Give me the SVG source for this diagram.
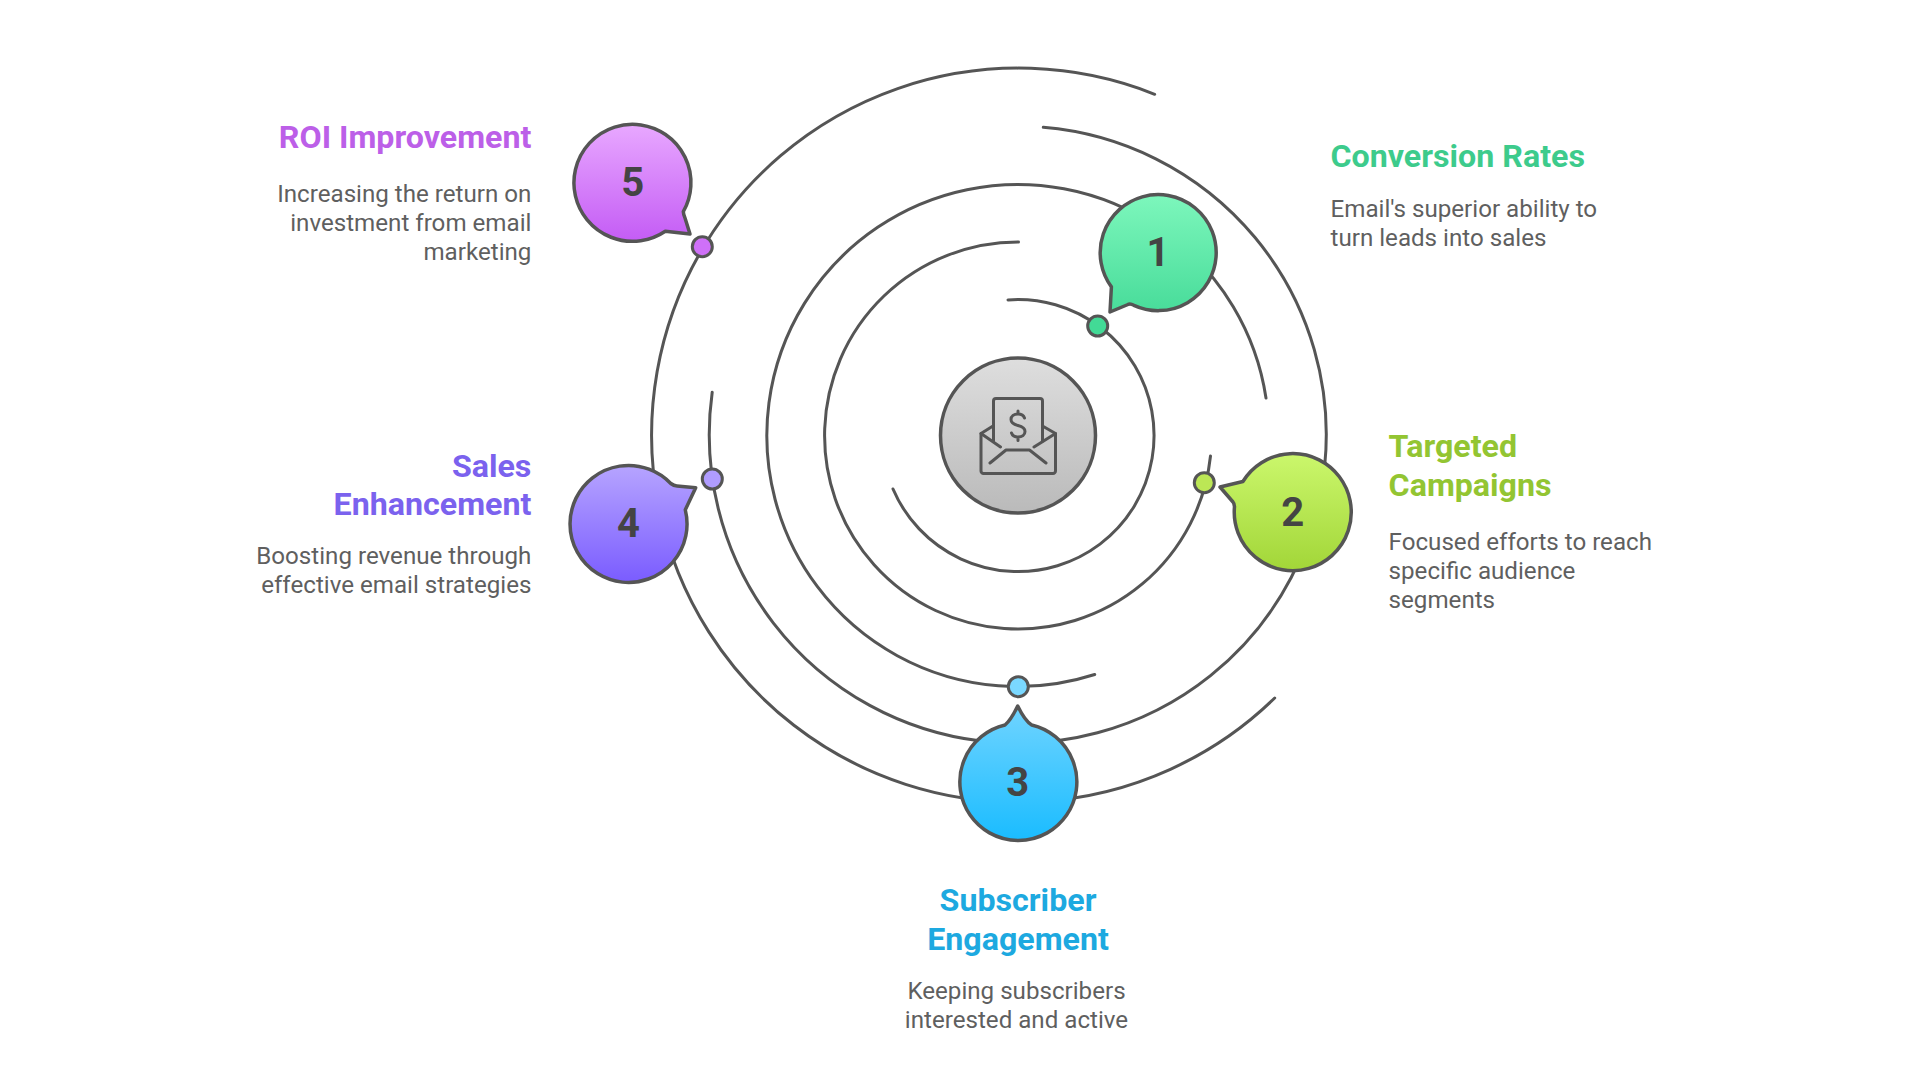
<svg xmlns="http://www.w3.org/2000/svg" width="1920" height="1080" viewBox="0 0 1920 1080">
<style>
.ring{fill:none;stroke:#555;stroke-width:3;stroke-linecap:round}
.shape{stroke:#555;stroke-width:3.5;stroke-linejoin:round}
.dot{stroke:#555;stroke-width:3}
.num{font-family:Roboto,"Liberation Sans",sans-serif;font-weight:700;font-size:40px;fill:#444;text-anchor:middle}
.t{font-family:Roboto,"Liberation Sans",sans-serif;font-weight:700;font-size:32.2px}
.d{font-family:Roboto,"Liberation Sans",sans-serif;font-size:24.15px;fill:#5f5f5f}
.e{text-anchor:end}.m{text-anchor:middle}
.icon{fill:none;stroke:#555;stroke-width:3;stroke-linecap:round;stroke-linejoin:round}
</style>
<defs>
<linearGradient id="g0" x1="0" y1="0" x2="0" y2="1"><stop offset="0" stop-color="#dedede"/><stop offset="1" stop-color="#bababa"/></linearGradient>
<linearGradient id="g1" x1="0" y1="0" x2="0" y2="1"><stop offset="0" stop-color="#7df7bc"/><stop offset="1" stop-color="#48dc9a"/></linearGradient>
<linearGradient id="g2" x1="0" y1="0" x2="0" y2="1"><stop offset="0" stop-color="#cbf76c"/><stop offset="1" stop-color="#a2d638"/></linearGradient>
<linearGradient id="g3" x1="0" y1="0" x2="0" y2="1"><stop offset="0" stop-color="#70d4ff"/><stop offset="1" stop-color="#1abcff"/></linearGradient>
<linearGradient id="g4" x1="0" y1="0" x2="0" y2="1"><stop offset="0" stop-color="#b6a4ff"/><stop offset="1" stop-color="#7a5cff"/></linearGradient>
<linearGradient id="g5" x1="0" y1="0" x2="0" y2="1"><stop offset="0" stop-color="#e8a8ff"/><stop offset="1" stop-color="#c45cf5"/></linearGradient>
</defs>
<g id="connectors">
<path class="ring" d="M1008 299.900A136 136 0 1 1 893 489"/>
<path class="ring" d="M1018.500 242A193.500 193.500 0 1 0 1210.500 456"/>
<path class="ring" d="M1266 398A251 251 0 1 0 1094.700 674.500"/>
<path class="ring" d="M1043.300 127.300A308.500 308.500 0 1 1 712.200 392.300"/>
<path class="ring" d="M1154.700 94.300A367 367 0 1 0 1274.700 698"/>
</g>
<g id="center">
<circle class="shape" cx="1018" cy="435.500" r="77.500" fill="url(#g0)"/>
<path class="icon" d="M993.500 441V401a2.500 2.500 0 0 1 2.500-2.500h44a2.500 2.500 0 0 1 2.500 2.500V441"/>
<path class="icon" d="M993 426L981 433.500L1000.500 447M1042.500 426L1055.500 433.500L1034 447"/>
<path class="icon" d="M981 433.500V471a2.500 2.500 0 0 0 2.500 2.500h69.500a2.500 2.500 0 0 0 2.500-2.500V433.500"/>
<path class="icon" d="M990 463L1006 450H1029.500L1046 463"/>
<path class="icon" stroke-width="2.500" d="M1024.500 418c-1-3-3.500-4-6.500-4c-4 0-7 2-7 5.500c0 3.500 3 5 7 6c4 1 7 2.500 7 6c0 3.500-3 5.500-7 5.500c-3 0-5.500-1-6.500-4M1018 411v3M1018 437.500v3"/>
</g>
<g id="node-1">
<circle class="dot" cx="1097.700" cy="326" r="10" fill="#42da96"/>
<path class="shape" fill="url(#g1)" d="M1110 312L1111.400 286.900A58 58 0 1 1 1133.900 305.300Q1130 303 1128 304.500Z"/>
<text class="num" x="1158" y="266">1</text>
<text class="t" x="1330.500" y="166.800" fill="#3dcb8c">Conversion Rates</text>
<text class="d" x="1330.500" y="216.500">Email's superior ability to</text>
<text class="d" x="1330.500" y="245.500">turn leads into sales</text>
</g>
<g id="node-2">
<circle class="dot" cx="1204.300" cy="482.700" r="10" fill="#bce755"/>
<path class="shape" fill="url(#g2)" d="M1220 487L1242.900 481.500A58.500 58.500 0 1 1 1234.500 506.700Q1234 503 1233 502Z"/>
<text class="num" x="1292.800" y="526">2</text>
<text class="t" x="1388.600" y="456.800" fill="#93c532">Targeted</text>
<text class="t" x="1388.600" y="495.500" fill="#93c532">Campaigns</text>
<text class="d" x="1388.600" y="550">Focused efforts to reach</text>
<text class="d" x="1388.600" y="579">specific audience</text>
<text class="d" x="1388.600" y="607.500">segments</text>
</g>
<g id="node-3">
<circle class="dot" cx="1018.300" cy="686.700" r="10" fill="#7ad8ff"/>
<path class="shape" fill="url(#g3)" d="M1017.700 706Q1025 721 1031.700 725A58.500 58.500 0 1 1 1005 725Q1011 720 1017.700 706Z"/>
<text class="num" x="1017.700" y="796">3</text>
<text class="t m" x="1018" y="910.800" fill="#1da9e0">Subscriber</text>
<text class="t m" x="1018" y="949.500" fill="#1da9e0">Engagement</text>
<text class="d m" x="1016.500" y="999">Keeping subscribers</text>
<text class="d m" x="1016.500" y="1028">interested and active</text>
</g>
<g id="node-4">
<circle class="dot" cx="712.300" cy="479" r="10" fill="#b09cff"/>
<path class="shape" fill="url(#g4)" d="M695.700 487.700L685.300 509.800A58.500 58.500 0 1 1 670.800 483.500Q674 486 677 486Z"/>
<text class="num" x="628.500" y="537">4</text>
<text class="t e" x="531.400" y="476.800" fill="#7b62ee">Sales</text>
<text class="t e" x="531.400" y="515" fill="#7b62ee">Enhancement</text>
<text class="d e" x="531.400" y="564">Boosting revenue through</text>
<text class="d e" x="531.400" y="593">effective email strategies</text>
</g>
<g id="node-5">
<circle class="dot" cx="702.300" cy="246.700" r="10" fill="#cf70f8"/>
<path class="shape" fill="url(#g5)" d="M690 234L665.300 231.200A58.500 58.500 0 1 1 683.300 211.700Q683.500 215 685 218Z"/>
<text class="num" x="632.800" y="196">5</text>
<text class="t e" x="531.400" y="147.500" fill="#bc5fe8">ROI Improvement</text>
<text class="d e" x="531.400" y="202">Increasing the return on</text>
<text class="d e" x="531.400" y="231">investment from email</text>
<text class="d e" x="531.400" y="260">marketing</text>
</g>
</svg>
